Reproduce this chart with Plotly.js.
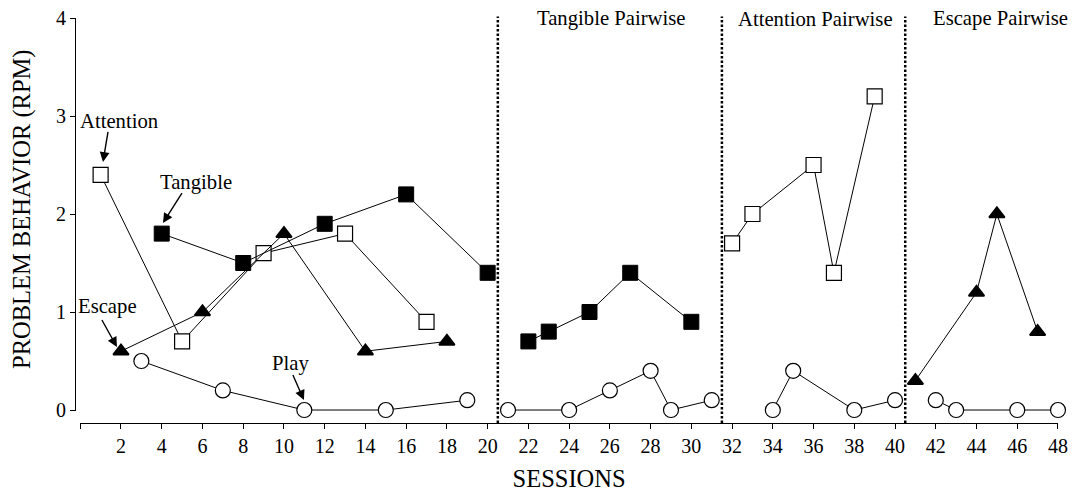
<!DOCTYPE html>
<html>
<head>
<meta charset="utf-8">
<script src="https://cdn.plot.ly/plotly-3.0.1.min.js"></script>
<style>html,body{margin:0;padding:0;background:#fff;}#chart{width:1076px;height:492px;}</style>
</head>
<body>
<div id="chart"></div>
<script>
// ---- Data (sessions, responses per minute) ----
const attentionBaseX = [1, 5, 9, 13, 17];
const attentionBaseY = [2.4, 0.7, 1.6, 1.8, 0.9];
const tangibleBaseX = [4, 8, 12, 16, 20];
const tangibleBaseY = [1.8, 1.5, 1.9, 2.2, 1.4];
const escapeBaseX = [2, 6, 10, 14, 18];
const escapeBaseY = [0.6, 1.0, 1.8, 0.6, 0.7];
const playBaseX = [3, 7, 11, 15, 19];
const playBaseY = [0.5, 0.2, 0, 0, 0.1];

const tangPairTangibleX = [22, 23, 25, 27, 30];
const tangPairTangibleY = [0.7, 0.8, 1.0, 1.4, 0.9];
const tangPairPlayX = [21, 24, 26, 28, 29, 31];
const tangPairPlayY = [0, 0, 0.2, 0.4, 0, 0.1];

const attnPairAttentionX = [32, 33, 36, 37, 39];
const attnPairAttentionY = [1.7, 2.0, 2.5, 1.4, 3.2];
const attnPairPlayX = [34, 35, 38, 40];
const attnPairPlayY = [0, 0.4, 0, 0.1];

const escPairEscapeX = [41, 44, 45, 47];
const escPairEscapeY = [0.3, 1.2, 2.0, 0.8];
const escPairPlayX = [42, 43, 46, 48];
const escPairPlayY = [0.1, 0, 0, 0];

const phaseChanges = [20.5, 31.5, 40.5];
const phaseLabels = ['Tangible Pairwise', 'Attention Pairwise', 'Escape Pairwise'];
const phaseLabelX = [26.1, 36.1, 45.2];

const xTickVals = [0, 2, 4, 6, 8, 10, 12, 14, 16, 18, 20, 22, 24, 26, 28, 30, 32, 34, 36, 38, 40, 42, 44, 46, 48];
const xTickText = ['', '2', '4', '6', '8', '10', '12', '14', '16', '18', '20', '22', '24', '26', '28', '30', '32', '34', '36', '38', '40', '42', '44', '46', '48'];
const yTickVals = [0, 1, 2, 3, 4];
const yTickText = ['0', '1', '2', '3', '4'];

// ---- Styles ----
const FONT = 'Liberation Serif, Times New Roman, serif';
const lineStyle = {color: '#000', width: 1};
const styles = {
  attention: {symbol: 'square', size: 15, color: '#fff', line: {color: '#000', width: 1.2}},
  tangible: {symbol: 'square', size: 15, color: '#000', line: {color: '#000', width: 1}},
  escape: {symbol: 'triangle-up', size: 13.5, color: '#000', line: {color: '#000', width: 1.8}},
  play: {symbol: 'circle', size: 15, color: '#fff', line: {color: '#000', width: 1.2}}
};

function tr(x, y, kind) {
  return {x: x, y: y, type: 'scatter', mode: 'lines+markers', line: lineStyle,
          marker: styles[kind], cliponaxis: false, showlegend: false, hoverinfo: 'x+y'};
}

const data = [
  tr(playBaseX, playBaseY, 'play'),
  tr(attentionBaseX, attentionBaseY, 'attention'),
  tr(escapeBaseX, escapeBaseY, 'escape'),
  tr(tangibleBaseX, tangibleBaseY, 'tangible'),
  tr(tangPairPlayX, tangPairPlayY, 'play'),
  tr(tangPairTangibleX, tangPairTangibleY, 'tangible'),
  tr(attnPairPlayX, attnPairPlayY, 'play'),
  tr(attnPairAttentionX, attnPairAttentionY, 'attention'),
  tr(escPairPlayX, escPairPlayY, 'play'),
  tr(escPairEscapeX, escPairEscapeY, 'escape')
];

const shapes = phaseChanges.map(function (xv) {
  return {type: 'line', xref: 'x', yref: 'paper', x0: xv, x1: xv, y0: 0, y1: 1.004,
          line: {color: '#000', width: 2.5, dash: '2.5px,2px'}};
});

const annotations = [];
phaseLabels.forEach(function (t, i) {
  annotations.push({text: t, x: phaseLabelX[i], y: 3.99, xref: 'x', yref: 'y', showarrow: false,
                    xanchor: 'center', yanchor: 'middle', font: {family: FONT, size: 20.7, color: '#000'}});
});

// condition labels
const condLabels = [
  {text: 'Attention', x: 1.95, y: 2.95},
  {text: 'Tangible', x: 5.68, y: 2.32},
  {text: 'Escape', x: 1.36, y: 1.06},
  {text: 'Play', x: 10.34, y: 0.47}
];
condLabels.forEach(function (c) {
  annotations.push({text: c.text, x: c.x, y: c.y, xref: 'x', yref: 'y', showarrow: false,
                    xanchor: 'center', yanchor: 'middle', font: {family: FONT, size: 20.7, color: '#000'}});
});

// pointer arrows (head position in data, tail offset in px)
const arrows = [
  {x: 1.117, y: 2.531, ax: 5, ay: -30},
  {x: 4.06, y: 1.908, ax: 19, ay: -30},
  {x: 1.80, y: 0.643, ax: -15, ay: -27},
  {x: 10.98, y: 0.102, ax: -11, ay: -25}
];
arrows.forEach(function (a) {
  annotations.push({text: '', x: a.x, y: a.y, xref: 'x', yref: 'y', ax: a.ax, ay: a.ay,
                    showarrow: true, arrowhead: 2, arrowsize: 1.4, arrowwidth: 1.4, arrowcolor: '#000',
                    borderpad: 0, borderwidth: 0, font: {size: 1}, standoff: 0, startstandoff: 0});
});

// y-axis title as annotation for exact placement
annotations.push({text: 'PROBLEM BEHAVIOR (RPM)', xref: 'paper', yref: 'paper', x: 0, y: 0.526,
                  xshift: -53, xanchor: 'center', yanchor: 'middle', textangle: -90, showarrow: false,
                  font: {family: FONT, size: 24.5, color: '#000'}});

const layout = {
  width: 1076, height: 492,
  margin: {l: 75, r: 17.7, t: 18, b: 69, pad: 0},
  paper_bgcolor: '#fff', plot_bgcolor: '#fff',
  font: {family: FONT, color: '#000', size: 20},
  xaxis: {
    range: [0, 48], domain: [0.00534, 1], anchor: 'free', position: 0,
    tickmode: 'array', tickvals: xTickVals, ticktext: xTickText,
    ticks: 'outside', ticklen: 5, tickwidth: 1, tickcolor: '#000',
    showline: true, linecolor: '#000', linewidth: 1,
    showgrid: false, zeroline: false,
    tickfont: {family: FONT, size: 20, color: '#000'},
    title: {text: 'SESSIONS', font: {family: FONT, size: 24.5, color: '#000'}}
  },
  yaxis: {
    range: [-0.01, 4], domain: [0.02963, 1], anchor: 'free', position: 0,
    tickmode: 'array', tickvals: yTickVals, ticktext: yTickText,
    ticks: 'outside', ticklen: 5, tickwidth: 1, tickcolor: '#000',
    showline: true, linecolor: '#000', linewidth: 1,
    showgrid: false, zeroline: false,
    tickfont: {family: FONT, size: 20, color: '#000'}
  },
  shapes: shapes,
  annotations: annotations,
  showlegend: false
};

Plotly.newPlot('chart', data, layout, {displayModeBar: false, staticPlot: true});
</script>
</body>
</html>
